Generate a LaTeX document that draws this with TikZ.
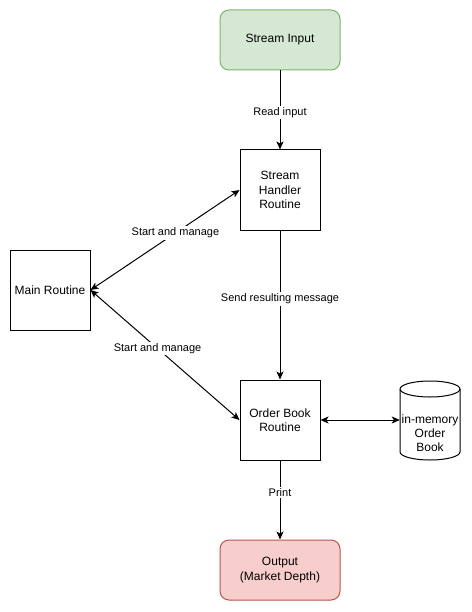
\documentclass[tikz,border=0pt]{standalone}
\usepackage{fontspec}
\setmainfont{Liberation Sans}
\usetikzlibrary{arrows.meta}
\definecolor{gfill}{HTML}{D5E8D4}
\definecolor{gline}{HTML}{82B366}
\definecolor{rfill}{HTML}{F8CECC}
\definecolor{rline}{HTML}{B85450}
\begin{document}
\begin{tikzpicture}[x=1pt,y=-1pt,
  box/.style={draw=black,line width=1pt,minimum width=80pt,minimum height=80pt,inner sep=0pt,align=center,font=\fontsize{12}{14.5}\selectfont},
  term/.style={draw,line width=1pt,rounded corners=9pt,minimum width=120pt,minimum height=60pt,inner sep=0pt,align=center,font=\fontsize{12}{14.5}\selectfont},
  conn/.style={line width=1pt,-{Stealth[length=8pt,width=7pt,inset=2pt]}},
  biconn/.style={line width=1pt,{Stealth[length=8pt,width=7pt,inset=2pt]}-{Stealth[length=8pt,width=7pt,inset=2pt]}},
  elabel/.style={fill=white,inner sep=1.5pt,font=\fontsize{11}{13}\selectfont}]
\useasboundingbox[fill=white] (0,0) rectangle (471,612);
\node[term,fill=gfill,draw=gline] (in) at (280,40) {Stream Input};
\node[box] (sh) at (280,190) {Stream\\Handler\\Routine};
\node[box] (main) at (50,290) {Main Routine};
\node[box] (ob) at (280,420) {Order Book\\Routine};
\node[term,fill=rfill,draw=rline] (out) at (280,570) {Output\\(Market Depth)};
\node[minimum width=60pt,minimum height=80pt,inner sep=0pt] (mem) at (430,420) {};
\draw[line width=1pt,fill=white] (400,389) -- (400,452) arc[start angle=180,end angle=0,x radius=30,y radius=8] -- (460,389) arc[start angle=0,end angle=-180,x radius=30,y radius=8] -- cycle;
\draw[line width=1pt] (400,389) arc[start angle=180,end angle=0,x radius=30,y radius=8];
\node[align=center,font=\fontsize{12}{14}\selectfont] (memtext) at (430,433) {in-memory\\Order\\Book};
\draw[conn] (in) -- node[elabel,pos=0.53] {Read input} (sh);
\draw[conn] (sh) -- node[elabel,pos=0.46] {Send resulting message} (ob);
\draw[conn] (ob) -- node[elabel,pos=0.4] {Print} (out);
\draw[biconn] (main.east) -- node[elabel,pos=0.57] {Start and manage} (sh.west);
\draw[biconn] (main.east) -- node[elabel,pos=0.45] {Start and manage} (ob.west);
\draw[biconn] (ob.east) -- (mem.west);
\end{tikzpicture}
\end{document}
